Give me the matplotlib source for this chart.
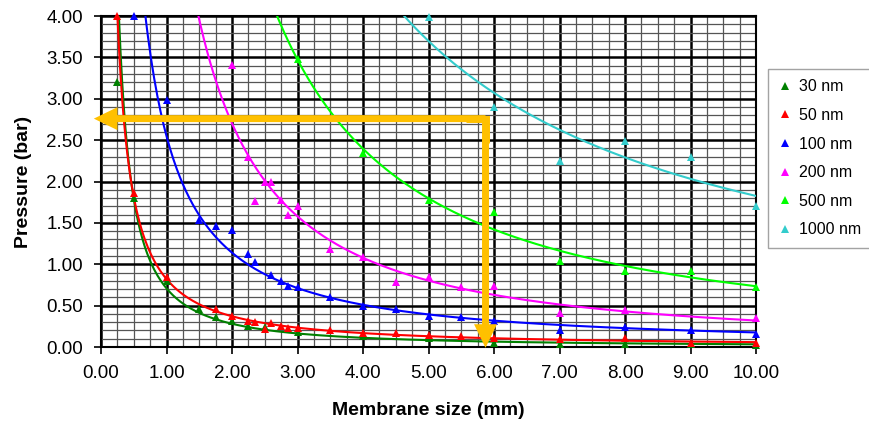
import numpy as np
import matplotlib.pyplot as plt
from matplotlib.patches import FancyArrowPatch
from matplotlib.ticker import MultipleLocator, FormatStrFormatter

plt.rcParams['font.family'] = ['Liberation Sans', 'DejaVu Sans']

# measured pressure vs membrane size, one set per pore size
x_30 = [0.25, 0.5, 1.0, 1.5, 1.75, 2.0, 2.25, 2.5, 3.0, 4.0, 5.0, 6.0, 7.0, 8.0, 9.0, 10.0]
p_30 = [3.2, 1.8, 0.8, 0.455, 0.36, 0.31, 0.25, 0.245, 0.185, 0.133, 0.105, 0.05, 0.04, 0.04, 0.035, 0.03]

x_50 = [0.25, 0.5, 1.0, 1.75, 2.0, 2.25, 2.35, 2.5, 2.6, 2.75, 2.85, 3.0, 3.5, 4.0,
        4.5, 5.0, 5.5, 6.0, 7.0, 8.0, 9.0, 10.0]
p_50 = [4.0, 1.86, 0.85, 0.455, 0.37, 0.31, 0.3, 0.22, 0.29, 0.25, 0.23, 0.23, 0.205, 0.17,
        0.165, 0.145, 0.13, 0.105, 0.093, 0.105, 0.05, 0.05]

x_100 = [0.5, 1.0, 1.5, 1.75, 2.0, 2.25, 2.35, 2.6, 2.75, 2.85, 3.0, 3.5, 4.0,
         4.5, 5.0, 5.5, 6.0, 7.0, 8.0, 9.0, 10.0]
p_100 = [4.0, 2.99, 1.53, 1.46, 1.42, 1.12, 1.03, 0.87, 0.80, 0.74, 0.72, 0.60, 0.50,
         0.46, 0.37, 0.36, 0.31, 0.205, 0.245, 0.205, 0.157]

x_200 = [2.0, 2.25, 2.35, 2.5, 2.6, 2.75, 2.85, 3.0, 3.5, 4.0, 4.5, 5.0, 5.5, 6.0, 7.0, 8.0, 10.0]
p_200 = [3.41, 2.30, 1.76, 1.99, 2.0, 1.78, 1.6, 1.70, 1.19, 1.09, 0.79, 0.85, 0.72, 0.74,
         0.415, 0.447, 0.35]

x_500 = [3.0, 4.0, 5.0, 6.0, 7.0, 8.0, 9.0, 10.0]
p_500 = [3.48, 2.34, 1.78, 1.63, 1.04, 0.92, 0.92, 0.72]

x_1000 = [5.0, 6.0, 7.0, 8.0, 9.0, 10.0]
p_1000 = [3.99, 2.90, 2.25, 2.49, 2.30, 1.70]

labels = ['30 nm', '50 nm', '100 nm', '200 nm', '500 nm', '1000 nm']
colors = ['#008000', '#FF0000', '#0000FF', '#FF00FF', '#00FF00', '#33CCCC']

# reading example: membrane size and the pressure found for it
read_size = 5.87
read_pressure = 2.76


def power_fit(x, y):
    # power trendline y = a * x^b, least squares in log space
    b, ln_a = np.polyfit(np.log(x), np.log(y), 1)
    return np.exp(ln_a), b


def main():
    fig = plt.figure(figsize=(8.7, 4.22), dpi=100)
    ax = fig.add_axes([0.1161, 0.1777, 0.869 - 0.1161, 0.962 - 0.1777])

    series = [(x_30, p_30), (x_50, p_50), (x_100, p_100),
              (x_200, p_200), (x_500, p_500), (x_1000, p_1000)]
    xs = np.linspace(0.25, 10.0, 400)
    for (x, p), lab, col in zip(series, labels, colors):
        a, b = power_fit(x, p)
        ax.plot(xs, a * xs ** b, color=col, lw=1.5, zorder=3)
        ax.plot(x, p, '^', color=col, ms=6, mew=0, label=lab, clip_on=False, zorder=4)

    ax.set_xlim(0, 10)
    ax.set_ylim(0, 4)
    ax.xaxis.set_major_locator(MultipleLocator(1))
    ax.xaxis.set_minor_locator(MultipleLocator(0.25))
    ax.yaxis.set_major_locator(MultipleLocator(0.5))
    ax.yaxis.set_minor_locator(MultipleLocator(0.1))
    ax.xaxis.set_major_formatter(FormatStrFormatter('%.2f'))
    ax.yaxis.set_major_formatter(FormatStrFormatter('%.2f'))
    ax.grid(which='major', color='black', lw=1.8, zorder=1)
    ax.grid(which='minor', color='#555555', lw=0.9, zorder=1)
    ax.set_axisbelow(True)
    ax.tick_params(which='major', direction='out', length=5, width=1.2,
                   labelsize=13.5, pad=8, colors='black')
    ax.tick_params(which='minor', length=0)
    for s in ax.spines.values():
        s.set_color('black')
        s.set_linewidth(1.5)

    ax.set_xlabel('Membrane size (mm)', fontsize=14, fontweight='bold', labelpad=14)
    ax.set_ylabel('Pressure (bar)', fontsize=14, fontweight='bold', labelpad=10)

    # orange reading arrows
    gold = '#FFC000'
    style = 'simple,head_length=1.7,head_width=1.65,tail_width=0.5'
    for tip in [(-0.11, read_pressure), (read_size, -0.01)]:
        arr = FancyArrowPatch((read_size, read_pressure), tip, arrowstyle=style,
                              mutation_scale=10, color=gold, lw=0, shrinkA=0, shrinkB=0,
                              clip_on=False, zorder=6)
        ax.add_patch(arr)
    ax.plot([read_size - 0.3, read_size, read_size],
            [read_pressure, read_pressure, read_pressure - 0.3],
            color=gold, lw=5, solid_joinstyle='miter', solid_capstyle='butt', zorder=6)

    leg = fig.legend(loc='upper left', bbox_to_anchor=(768 / 870, 1 - 69 / 422),
                     fontsize=11.5, frameon=True, fancybox=False, borderaxespad=0,
                     handlelength=0.8, handletextpad=0.5, labelspacing=0.85,
                     borderpad=0.65, markerscale=0.9)
    leg.get_frame().set_edgecolor('#8c8c8c')
    leg.get_frame().set_linewidth(1.0)

    fig.savefig('out.png', dpi=100)


if __name__ == "__main__":
    main()
